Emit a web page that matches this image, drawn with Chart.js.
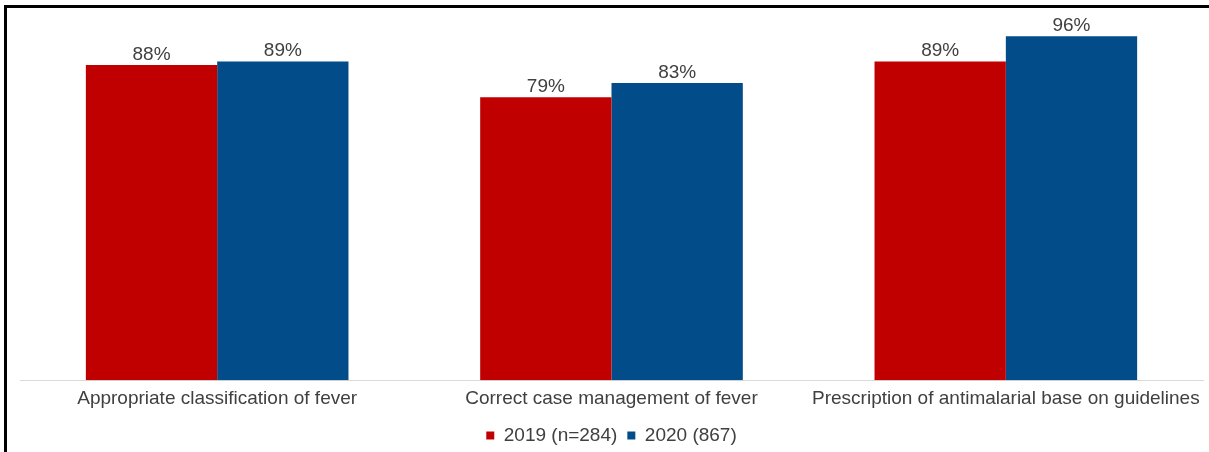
<!DOCTYPE html>
<html>
<head>
<meta charset="utf-8">
<script src="https://cdn.jsdelivr.net/npm/chart.js@4/dist/chart.umd.min.js"></script>
<style>
  html, body { margin: 0; padding: 0; background: #fff; overflow: hidden; }
  #frame { position: absolute; left: 4px; top: 5px; width: 1205px; height: 447px;
           border-top: 3px solid #000; border-left: 3px solid #000; box-sizing: border-box; }
  #wrap { position: absolute; left: 0; top: 0; width: 1209px; height: 455px; }
</style>
</head>
<body>
<div id="frame"></div>
<div id="wrap"><canvas id="c"></canvas></div>
<script>
const categories = [
  'Appropriate classification of fever',
  'Correct case management of fever',
  'Prescription of antimalarial base on guidelines'
];
const values2019 = [88, 79, 89];
const values2020 = [89, 83, 96];
const seriesLabels = ['2019 (n=284)', '2020 (867)'];

const FONT = '"Liberation Sans", Arial, sans-serif';

// draws the "88%" labels above each bar
const barLabels = {
  id: 'barLabels',
  afterDatasetsDraw(chart) {
    const ctx = chart.ctx;
    ctx.save();
    ctx.font = '19px ' + FONT;
    ctx.fillStyle = '#404040';
    ctx.textAlign = 'center';
    ctx.textBaseline = 'bottom';
    chart.data.datasets.forEach((ds, i) => {
      chart.getDatasetMeta(i).data.forEach((bar, j) => {
        ctx.fillText(ds.data[j] + '%', bar.x, bar.y - 1);
      });
    });
    ctx.restore();
  }
};

new Chart(document.getElementById('c'), {
  type: 'bar',
  data: {
    labels: categories,
    datasets: [
      { label: seriesLabels[0], data: values2019, backgroundColor: '#C00000' },
      { label: seriesLabels[1], data: values2020, backgroundColor: '#024D89' }
    ]
  },
  options: {
    responsive: true,
    maintainAspectRatio: false,
    animation: false,
    layout: { padding: { left: 20, right: 6, top: 22, bottom: 0 } },
    datasets: { bar: { categoryPercentage: 0.666, barPercentage: 1.0 } },
    scales: {
      x: {
        grid: { display: false },
        border: { display: true, color: '#d9d9d9', width: 1 },
        ticks: {
          color: '#404040',
          padding: -1,
          maxRotation: 0,
          font: { size: 19, family: FONT }
        },
        afterFit(scale) { scale.height += 7; }
      },
      y: {
        display: false,
        min: 0,
        max: 100
      }
    },
    plugins: {
      legend: {
        position: 'bottom',
        labels: {
          boxWidth: 8,
          boxHeight: 8,
          padding: 10,
          color: '#404040',
          font: { size: 19, family: FONT }
        }
      },
      tooltip: { enabled: false }
    }
  },
  plugins: [barLabels]
});
</script>
</body>
</html>
